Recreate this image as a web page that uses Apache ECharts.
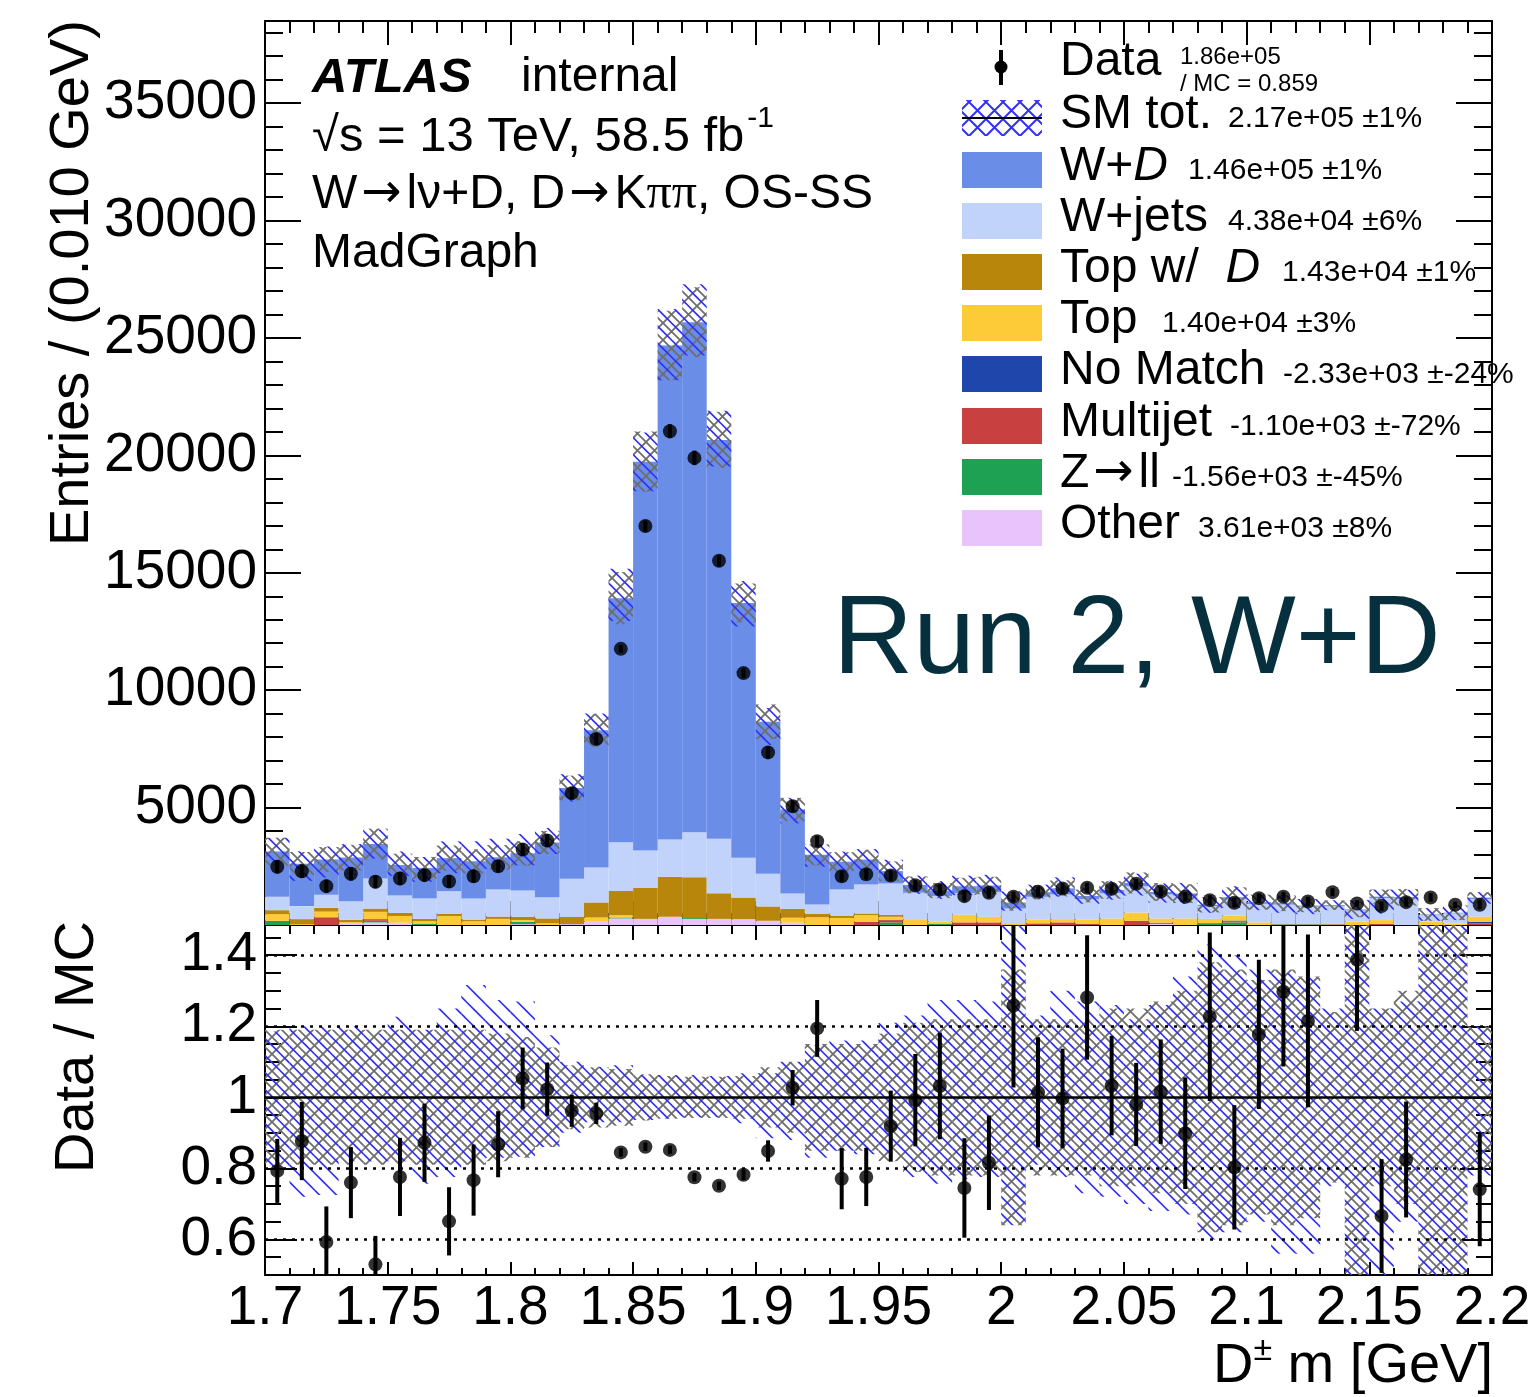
<!DOCTYPE html>
<html>
<head>
<meta charset="utf-8">
<title>Run 2, W+D</title>
<script src="https://cdn.jsdelivr.net/npm/echarts@6.0.0/dist/echarts.min.js"></script>
<style>
html, body { margin: 0; padding: 0; background: #fff; }
#chart { width: 1537px; height: 1397px; }
</style>
</head>
<body>
<div id="chart"></div>
<script>
// D+- mass, 50 bins of 0.01 GeV between 1.7 and 2.2
const categories = [];
for (let i = 0; i < 50; i++) categories.push((1.705 + 0.01 * i).toFixed(3));

// data (OS-SS)
const dataCounts = [
  2479, 2292, 1654, 2181, 1841, 1981, 2122, 1854, 2079, 2504,
  3214, 3597, 5616, 7921, 11760, 16990, 21029, 19894, 15514, 10727,
  7351, 5055, 3567, 2079, 2164, 2109, 1696, 1514, 1229, 1373,
  1203, 1416, 1556, 1586, 1543, 1756, 1429, 1203, 1059, 948,
  1144, 1203, 1003, 1399, 918, 804, 974, 1173, 863, 863
];
// data / MC
const ratioValues = [
  0.793, 0.877, 0.593, 0.760, 0.530, 0.776, 0.872, 0.651, 0.767, 0.868,
  1.053, 1.023, 0.962, 0.955, 0.845, 0.861, 0.852, 0.775, 0.751, 0.782,
  0.849, 1.027, 1.194, 0.771, 0.776, 0.919, 0.992, 1.032, 0.745, 0.816,
  1.258, 1.014, 0.997, 1.281, 1.033, 0.980, 1.016, 0.899, 1.227, 0.803,
  1.177, 1.297, 1.215, 1.75, 1.387, 0.666, 0.825, 2.6, 1.8, 0.741
];
const ratioErrors = [
  0.09, 0.11, 0.10, 0.10, 0.08, 0.11, 0.11, 0.096, 0.10, 0.093,
  0.087, 0.075, 0.045, 0.03, 0.012, 0.012, 0.012, 0.012, 0.012, 0.015,
  0.03, 0.05, 0.08, 0.086, 0.082, 0.10, 0.13, 0.15, 0.14, 0.133,
  0.23, 0.155, 0.14, 0.175, 0.14, 0.117, 0.147, 0.157, 0.237, 0.175,
  0.21, 0.21, 0.243, 0.2, 0.2, 0.16, 0.163, 0.4, 0.25, 0.16
];
// MC uncertainty bands, relative: gray cross-hatch (symmetric), blue hatch (up / down)
const grayRelErrors = [
  0.19, 0.19, 0.19, 0.19, 0.19, 0.19, 0.19, 0.19, 0.19, 0.18,
  0.17, 0.14, 0.09, 0.085, 0.08, 0.065, 0.06, 0.058, 0.058, 0.06,
  0.085, 0.10, 0.15, 0.15, 0.15, 0.18, 0.21, 0.22, 0.22, 0.22,
  0.36, 0.22, 0.22, 0.22, 0.25, 0.25, 0.27, 0.30, 0.38, 0.36,
  0.33, 0.36, 0.34, 0.24, 0.50, 0.25, 0.30, 0.60, 0.60, 0.20
];
const blueRelUp = [
  0.185, 0.20, 0.20, 0.20, 0.18, 0.227, 0.19, 0.25, 0.316, 0.274,
  0.27, 0.175, 0.10, 0.086, 0.09, 0.063, 0.063, 0.063, 0.06, 0.068,
  0.068, 0.10, 0.147, 0.16, 0.16, 0.21, 0.23, 0.274, 0.274, 0.27,
  0.50, 0.23, 0.30, 0.27, 0.26, 0.22, 0.26, 0.34, 0.43, 0.40,
  0.36, 0.35, 0.34, 0.25, 0.60, 0.25, 0.27, 0.60, 0.60, 0.20
];
const blueRelDown = [
  0.20, 0.28, 0.275, 0.18, 0.18, 0.18, 0.243, 0.224, 0.18, 0.17,
  0.167, 0.14, 0.10, 0.07, 0.07, 0.064, 0.06, 0.055, 0.055, 0.073,
  0.115, 0.12, 0.17, 0.15, 0.16, 0.16, 0.224, 0.243, 0.23, 0.224,
  0.36, 0.19, 0.224, 0.27, 0.28, 0.30, 0.32, 0.33, 0.40, 0.38,
  0.35, 0.44, 0.44, 0.25, 0.60, 0.60, 0.35, 0.60, 0.60, 0.22
];

// MC stack, bottom to top
const otherBkg = [
  0, 0, 0, 80, 110, 100, 0, 0, 0, 0,
  40, 0, 40, 140, 280, 260, 350, 260, 260, 250,
  180, 100, 0, 0, 0, 0, 0, 0, 0, 0,
  0, 0, 0, 0, 0, 0, 50, 0, 0, 0,
  0, 0, 0, 0, 0, 0, 0, 0, 0, 0
];
const zll = [
  180, 0, 0, 0, 70, 0, 60, 0, 0, 0,
  100, 0, 0, 0, 40, 0, 0, 40, 0, 0,
  0, 0, 0, 0, 0, 110, 0, 40, 0, 0,
  0, 0, 0, 0, 0, 0, 0, 0, 80, 110,
  0, 0, 0, 0, 0, 0, 0, 0, 0, 0
];
const multijet = [
  0, 0, 330, 0, 70, 0, 0, 0, 0, 0,
  0, 0, 0, 0, 0, 0, 0, 0, 0, 0,
  0, 0, 0, 0, 140, 100, 0, 0, 110, 110,
  0, 70, 110, 60, 0, 180, 50, 0, 0, 40,
  0, 0, 0, 0, 0, 40, 0, 0, 0, 70
];
const noMatch = [
  0, 0, 0, 0, 0, 0, 0, 0, 0, 0,
  0, 0, 0, 0, 0, 0, 0, 0, 0, 0,
  0, 0, 0, 0, 0, 0, 0, 0, 0, 0,
  0, 0, 0, 0, 0, 0, 0, 0, 0, 40,
  0, 0, 0, 0, 0, 0, 0, 0, 0, 70
];
const topBkg = [
  280, 40, 240, 40, 310, 280, 100, 380, 160, 260,
  70, 70, 0, 180, 100, 0, 0, 0, 0, 0,
  0, 210, 330, 300, 280, 140, 210, 100, 330, 240,
  40, 170, 140, 180, 280, 350, 180, 280, 180, 210,
  110, 20, 20, 30, 140, 170, 0, 140, 60, 220
];
const topWithD = [
  170, 210, 160, 100, 140, 140, 100, 90, 70, 100,
  140, 210, 300, 640, 1030, 1320, 1700, 1730, 1090, 920,
  610, 380, 140, 100, 70, 80, 20, 0, 0, 0,
  0, 0, 0, 0, 0, 0, 0, 0, 0, 0,
  0, 0, 0, 0, 0, 0, 0, 0, 0, 0
];
const wJets = [
  573, 554, 558, 796, 1281, 738, 871, 971, 901, 1154,
  1121, 906, 1629, 1489, 2075, 1592, 1589, 1920, 2318, 1691,
  1391, 654, 406, 1114, 1236, 1339, 1143, 1090, 910, 1050,
  660, 960, 1050, 860, 1070, 1120, 1020, 970, 540, 700,
  790, 850, 760, 770, 480, 940, 1130, 280, 430, 740
];
const wD = [
  1923, 1809, 1501, 1854, 1469, 1295, 1302, 1407, 1580, 1371,
  1581, 2330, 3869, 5845, 10392, 16561, 21043, 21720, 16990, 10856,
  6477, 3578, 2111, 1182, 1063, 526, 337, 237, 300, 283,
  256, 196, 261, 138, 144, 142, 106, 88, 63, 81,
  72, 58, 46, 46, 42, 57, 51, 30, 33, 65
];

const yMajorTicks = [5000, 10000, 15000, 20000, 25000, 30000, 35000];
const ratioMajorTicks = [0.6, 0.8, 1, 1.2, 1.4];
const ratioDotted = [0.6, 0.8, 1.2, 1.4];

const yMinorTicks = [];
for (let v = 1000; v <= 38000; v += 1000) if (v % 5000) yMinorTicks.push(v);
const ratioMinorTicks = [];
for (let k = 11; k <= 29; k++) if (k % 4 !== 0) ratioMinorTicks.push(+(k * 0.05).toFixed(2));

const FONT = '"Liberation Sans", Arial, Helvetica, sans-serif';
const colors = {
  wD: '#6a8de8', wJets: '#c1d3fb', topWithD: '#b8860b', topBkg: '#fdcb38',
  noMatch: '#1f47ab', multijet: '#c8403f', zll: '#1fa153', otherBkg: '#e9c3fb'
};

// hatch patterns, anchored on the canvas like ROOT fill styles
const HS = 17;
function makePattern(draw) {
  const c = document.createElement('canvas');
  c.width = HS; c.height = HS;
  draw(c.getContext('2d'));
  return { image: c, repeat: 'repeat' };
}
const grayPat = makePattern(g => {
  g.strokeStyle = '#6e6e6e'; g.lineWidth = 1.8;
  g.beginPath();
  g.moveTo(-2, HS + 2); g.lineTo(HS + 2, -2);
  g.moveTo(-2, -2); g.lineTo(HS + 2, HS + 2);
  g.stroke();
});
const bluePat = makePattern(g => {
  g.strokeStyle = '#3232f2'; g.lineWidth = 1.6;
  g.beginPath();
  g.moveTo(HS / 2 - 2, -2); g.lineTo(HS + HS / 2 + 2, HS + 2);
  g.moveTo(-HS / 2 - 2, -2); g.lineTo(HS / 2 + 2, HS + 2);
  g.stroke();
});
const blueLegendPat = makePattern(g => {
  g.strokeStyle = '#3232f2'; g.lineWidth = 2;
  g.beginPath();
  g.moveTo(-2, HS + 2); g.lineTo(HS + 2, -2);
  g.moveTo(-2, -2); g.lineTo(HS + 2, HS + 2);
  g.stroke();
});

const stackNames = ['otherBkg', 'zll', 'multijet', 'noMatch', 'topBkg', 'topWithD', 'wJets', 'wD'];
const stackData = { otherBkg, zll, multijet, noMatch, topBkg, topWithD, wJets, wD };
const mcTotal = categories.map((c, i) => stackNames.reduce((s, n) => s + stackData[n][i], 0));

const grayTop = mcTotal.map((t, i) => [i, t * (1 - grayRelErrors[i]), t * (1 + grayRelErrors[i])]);
const blueTop = mcTotal.map((t, i) => [i, t * (1 - blueRelDown[i]), t * (1 + blueRelUp[i])]);
const grayRatio = grayRelErrors.map((e, i) => [i, 1 - e, 1 + e]);
const blueRatio = blueRelUp.map((e, i) => [i, 1 - blueRelDown[i], 1 + e]);
const pointsTop = dataCounts.map((v, i) => [i, v]);
const errTop = dataCounts.map((v, i) => [i, v - ratioErrors[i] * mcTotal[i], v + ratioErrors[i] * mcTotal[i]]);
const pointsRatio = ratioValues.map((v, i) => [i, v]);
const errRatio = ratioValues.map((v, i) => [i, v - ratioErrors[i], v + ratioErrors[i]]);

function bandRenderer(pattern) {
  return function (params, api) {
    const i = api.value(0);
    const p0 = api.coord([i, api.value(1)]);
    const p1 = api.coord([i, api.value(2)]);
    const w = api.size([1, 0])[0];
    const cs = params.coordSys;
    const yTop = Math.max(p1[1], cs.y);
    const yBot = Math.min(p0[1], cs.y + cs.height);
    if (yBot <= yTop) return null;
    return {
      type: 'rect',
      shape: { x: p1[0] - w / 2, y: yTop, width: w, height: yBot - yTop },
      style: { fill: pattern }
    };
  };
}

function errItem(params, api) {
  const i = api.value(0);
  const a = api.coord([i, api.value(1)]);
  const b = api.coord([i, api.value(2)]);
  const cs = params.coordSys;
  const y0 = Math.min(a[1], cs.y + cs.height);
  const y1 = Math.max(b[1], cs.y);
  if (y0 <= y1) return null;
  return {
    type: 'line',
    shape: { x1: a[0], y1: y0, x2: a[0], y2: y1 },
    style: { stroke: '#000', lineWidth: 4 }
  };
}

const axLine = { show: true, onZero: false, lineStyle: { color: '#000', width: 2 } };
const labelStyle = { color: '#000', fontSize: 55, fontFamily: FONT };

function xValueAxis(grid, pos, majorLen, minorLen, withLabels) {
  return {
    type: 'value', gridIndex: grid, position: pos, min: 1.7, max: 2.2, interval: 0.05,
    axisLine: axLine,
    axisTick: { show: true, inside: true, length: majorLen, lineStyle: { color: '#000', width: 2 } },
    minorTick: { show: true, splitNumber: 5, length: minorLen, lineStyle: { color: '#000', width: 2 } },
    splitLine: { show: false }, minorSplitLine: { show: false },
    axisLabel: withLabels ? Object.assign({
      show: true, margin: 6, showMinLabel: true, showMaxLabel: true, hideOverlap: false,
      formatter: v => String(+v.toFixed(2))
    }, labelStyle) : { show: false }
  };
}

function yAxisDef(grid, pos, min, max, ticks, len, labelTicks, showLine) {
  return {
    type: 'value', gridIndex: grid, position: pos, min: min, max: max,
    axisLine: showLine ? axLine : { show: false },
    axisTick: { show: true, inside: true, length: len, customValues: ticks, lineStyle: { color: '#000', width: 2 } },
    splitLine: { show: false },
    axisLabel: labelTicks ? Object.assign({
      show: true, margin: 8, customValues: labelTicks, hideOverlap: false,
      formatter: v => String(v)
    }, labelStyle) : { show: false }
  };
}

const series = [];
stackNames.forEach(n => {
  series.push({
    type: 'bar', name: n, xAxisIndex: 0, yAxisIndex: 0, stack: 'mc',
    barCategoryGap: '0%', data: stackData[n], silent: true, z: 2,
    itemStyle: { color: colors[n] }
  });
});
function bandSeries(xi, yi, data, pattern, z) {
  return { type: 'custom', xAxisIndex: xi, yAxisIndex: yi, renderItem: bandRenderer(pattern),
    data: data, silent: true, z: z, encode: { x: 0, y: [1, 2] } };
}
series.push(
  bandSeries(0, 0, grayTop, grayPat, 3),
  bandSeries(0, 0, blueTop, bluePat, 3),
  { type: 'custom', xAxisIndex: 0, yAxisIndex: 0, renderItem: errItem, data: errTop, silent: true, z: 4,
    encode: { x: 0, y: [1, 2] } },
  { type: 'scatter', xAxisIndex: 0, yAxisIndex: 0, data: pointsTop, symbolSize: 14, clip: true,
    itemStyle: { color: '#000' }, silent: true, z: 5 },
  bandSeries(3, 4, grayRatio, grayPat, 3),
  bandSeries(3, 4, blueRatio, bluePat, 3),
  { type: 'custom', xAxisIndex: 3, yAxisIndex: 4, renderItem: errItem, data: errRatio, silent: true, z: 5,
    encode: { x: 0, y: [1, 2] } },
  { type: 'scatter', xAxisIndex: 3, yAxisIndex: 4, data: pointsRatio, symbolSize: 14, clip: true,
    itemStyle: { color: '#000' }, silent: true, z: 6,
    markLine: {
      silent: true, symbol: ['none', 'none'], label: { show: false }, animation: false,
      data: ratioDotted.map(v => ({ yAxis: v, lineStyle: { type: [3, 6], color: '#000', width: 2.5 } }))
        .concat([{ yAxis: 1, lineStyle: { type: 'solid', color: '#000', width: 2.5 } }])
    } }
);

// text measuring for composed labels
const mctx = document.createElement('canvas').getContext('2d');
function tw(str, size, pre) {
  mctx.font = (pre || '') + ' ' + size + 'px ' + FONT;
  return mctx.measureText(str).width;
}
const els = [];
function txt(str, x, y, size, o) {
  o = o || {};
  const style = {
    text: str, fontSize: size, fontFamily: FONT, fill: o.color || '#000',
    fontStyle: o.italic ? 'italic' : 'normal', fontWeight: o.bold ? 'bold' : 'normal',
    textAlign: o.align || 'left', align: o.align || 'left',
    textVerticalAlign: 'middle', verticalAlign: 'middle'
  };
  if (o.rich) style.rich = o.rich;
  els.push({ type: 'text', x: x, y: y, z: 100, rotation: o.rot || 0, silent: true, style: style });
}
const symRich = {
  ar: { fontSize: 48, fontFamily: '"DejaVu Sans", sans-serif', fill: '#000', padding: [0, 5, 0, 4] },
  pi: { fontSize: 50, fontFamily: '"Liberation Serif", "DejaVu Serif", serif', fill: '#000' },
  n: { fontSize: 48, fontFamily: FONT, fill: '#000' }
};

// axis titles
txt('Entries / (0.010 GeV)', 73, 20, 56, { rot: Math.PI / 2, align: 'right' });
txt('Data / MC', 78, 921, 56, { rot: Math.PI / 2, align: 'right' });
const xt1 = ' m [GeV]';
const w1 = tw(xt1, 56);
const wpm = tw('\u00b1', 34);
txt(xt1, 1493, 1367, 56, { align: 'right' });
txt('\u00b1', 1493 - w1, 1351, 34, { align: 'right' });
txt('D', 1493 - w1 - wpm, 1367, 56, { align: 'right' });

// labels top left
txt('ATLAS', 312, 78, 49, { bold: true, italic: true });
txt('internal', 521, 78, 48);
const sq = '\u221As = 13 TeV, 58.5 fb';
txt(sq, 312, 137, 49);
txt('-1', 312 + tw(sq, 49) + 3, 119, 30);
txt('{n|W}{ar|\u2192}{n|l\u03bd+D, D}{ar|\u2192}{n|K}{pi|\u03c0\u03c0}{n|, OS-SS}', 312, 195, 48, { rich: symRich });
txt('MadGraph', 312, 254, 48);
txt('Run 2, W+D', 833, 642, 111, { color: '#06303e' });

// legend
els.push({ type: 'line', z: 100, silent: true, shape: { x1: 1001, y1: 50, x2: 1001, y2: 85 }, style: { stroke: '#000', lineWidth: 4 } });
els.push({ type: 'circle', z: 100, silent: true, shape: { cx: 1001, cy: 67, r: 6.5 }, style: { fill: '#000' } });
txt('Data', 1060, 62, 48);
txt('1.86e+05', 1180, 57, 24);
txt('/ MC = 0.859', 1180, 84, 24);

els.push({ type: 'rect', z: 100, silent: true, shape: { x: 962, y: 100, width: 80, height: 36 }, style: { fill: blueLegendPat } });
els.push({ type: 'line', z: 101, silent: true, shape: { x1: 962, y1: 118, x2: 1042, y2: 118 }, style: { stroke: '#000', lineWidth: 2 } });
txt('SM tot.', 1060, 115, 48);
txt('2.17e+05 \u00b11%', 1228, 119, 30);

const legendRows = [
  { key: 'wD', y: 170, name: 'W+', ital: 'D', val: '1.46e+05 \u00b11%', vx: 1188 },
  { key: 'wJets', y: 221, name: 'W+jets', val: '4.38e+04 \u00b16%', vx: 1228 },
  { key: 'topWithD', y: 272, name: 'Top w/  ', ital: 'D', val: '1.43e+04 \u00b11%', vx: 1282 },
  { key: 'topBkg', y: 323, name: 'Top', val: '1.40e+04 \u00b13%', vx: 1162 },
  { key: 'noMatch', y: 374, name: 'No Match', val: '-2.33e+03 \u00b1-24%', vx: 1283 },
  { key: 'multijet', y: 426, name: 'Multijet', val: '-1.10e+03 \u00b1-72%', vx: 1230 },
  { key: 'zll', y: 477, name: '{n|Z}{ar|\u2192}{n|ll}', rich: true, val: '-1.56e+03 \u00b1-45%', vx: 1172 },
  { key: 'otherBkg', y: 528, name: 'Other', val: '3.61e+03 \u00b18%', vx: 1198 }
];
legendRows.forEach(r => {
  els.push({ type: 'rect', z: 100, silent: true, shape: { x: 962, y: r.y - 18, width: 80, height: 36 }, style: { fill: colors[r.key] } });
  txt(r.name, 1060, r.y - 3, 48, r.rich ? { rich: symRich } : {});
  if (r.ital) txt(r.ital, 1060 + tw(r.name, 48), r.y - 3, 48, { italic: true });
  txt(r.val, r.vx, r.y + 1, 30);
});

const option = {
  animation: false,
  backgroundColor: '#fff',
  grid: [
    { left: 265, top: 21, width: 1227, height: 904, outerBoundsMode: 'none', containLabel: false },
    { left: 265, top: 925, width: 1227, height: 350, outerBoundsMode: 'none', containLabel: false }
  ],
  xAxis: [
    { type: 'category', gridIndex: 0, data: categories, show: false, boundaryGap: true },
    xValueAxis(0, 'bottom', 24, 12, false),
    xValueAxis(0, 'top', 24, 12, false),
    { type: 'category', gridIndex: 1, data: categories, show: false, boundaryGap: true },
    xValueAxis(1, 'bottom', 13, 7, true),
    xValueAxis(1, 'top', 15, 9, false)
  ],
  yAxis: [
    yAxisDef(0, 'left', 0, 38500, yMajorTicks, 36, yMajorTicks, true),
    yAxisDef(0, 'left', 0, 38500, yMinorTicks, 18, null, false),
    yAxisDef(0, 'right', 0, 38500, yMajorTicks, 36, null, true),
    yAxisDef(0, 'right', 0, 38500, yMinorTicks, 18, null, false),
    yAxisDef(1, 'left', 0.5, 1.485, ratioMajorTicks, 32, ratioMajorTicks, true),
    yAxisDef(1, 'left', 0.5, 1.485, ratioMinorTicks, 16, null, false),
    yAxisDef(1, 'right', 0.5, 1.485, ratioMajorTicks, 32, null, true),
    yAxisDef(1, 'right', 0.5, 1.485, ratioMinorTicks, 16, null, false)
  ],
  series: series,
  graphic: { elements: els }
};

const chart = echarts.init(document.getElementById('chart'), null, { renderer: 'canvas' });
chart.setOption(option);
</script>
</body>
</html>
